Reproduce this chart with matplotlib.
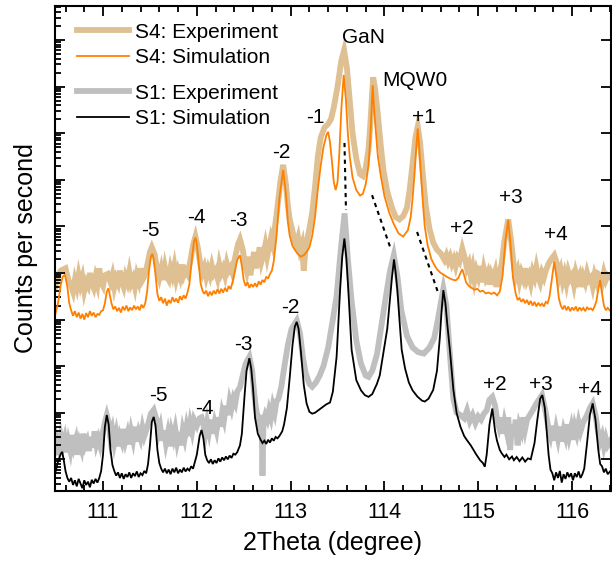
import numpy as np
import matplotlib
matplotlib.use("Agg")
from matplotlib import pyplot as plt
from matplotlib.ticker import MultipleLocator, LogLocator, NullFormatter

plt.rcParams['font.family'] = ['Liberation Sans', 'DejaVu Sans']

## DATA  (2Theta in degree, log10 of counts per second; S4 curves are offset upward)
s4_exp = [
    (110.49, 3.70), (110.52, 3.95), (110.55, 4.05), (110.60, 4.10), (110.63, 3.85), (110.66, 3.72),
    (110.68, 3.60), (110.70, 3.85), (110.72, 3.70), (110.74, 3.95), (110.76, 3.75), (110.78, 3.90),
    (110.80, 3.62), (110.82, 3.80), (110.84, 3.72), (110.86, 4.00), (110.88, 3.78), (110.90, 3.68),
    (110.92, 3.90), (110.94, 3.75), (110.96, 4.10), (110.98, 3.80), (111.00, 3.72), (111.02, 3.95),
    (111.05, 3.98), (111.08, 3.80), (111.10, 3.95), (111.12, 3.70), (111.14, 3.88), (111.16, 3.78),
    (111.18, 4.05), (111.20, 3.82), (111.22, 3.70), (111.24, 3.92), (111.26, 3.80), (111.28, 4.02),
    (111.30, 3.78), (111.32, 3.88), (111.34, 3.70), (111.36, 3.95), (111.38, 3.82), (111.40, 4.10),
    (111.42, 3.85), (111.44, 3.92), (111.47, 4.15), (111.50, 4.45), (111.52, 4.55), (111.55, 4.40),
    (111.58, 4.05), (111.60, 3.90), (111.62, 4.08), (111.64, 3.85), (111.66, 4.12), (111.68, 3.92),
    (111.70, 3.85), (111.72, 4.10), (111.74, 3.95), (111.76, 4.15), (111.78, 3.88), (111.80, 4.05),
    (111.82, 3.92), (111.84, 4.18), (111.86, 3.95), (111.88, 4.05), (111.90, 3.98), (111.93, 4.25),
    (111.96, 4.60), (111.985, 4.78), (112.01, 4.55), (112.04, 4.15), (112.06, 4.00), (112.08, 4.12),
    (112.10, 3.92), (112.12, 4.08), (112.14, 3.95), (112.16, 4.15), (112.18, 3.98), (112.20, 4.05),
    (112.22, 3.90), (112.24, 4.18), (112.26, 4.00), (112.28, 4.10), (112.30, 3.95), (112.32, 4.20),
    (112.34, 4.05), (112.36, 4.12), (112.38, 4.00), (112.41, 4.35), (112.44, 4.62), (112.46, 4.72),
    (112.49, 4.50), (112.51, 4.20), (112.53, 4.05), (112.55, 4.35), (112.57, 3.95), (112.59, 4.20),
    (112.61, 4.45), (112.63, 4.10), (112.65, 4.30), (112.67, 4.55), (112.69, 4.25), (112.71, 4.40),
    (112.73, 4.60), (112.75, 4.35), (112.77, 4.55), (112.79, 4.75), (112.81, 4.60), (112.83, 4.95),
    (112.85, 5.25), (112.87, 5.60), (112.89, 5.95), (112.92, 6.32), (112.95, 5.90), (112.97, 5.45),
    (112.99, 5.15), (113.02, 4.90), (113.04, 4.70), (113.06, 4.60), (113.08, 4.75), (113.10, 4.50),
    (113.12, 4.62), (113.14, 4.05), (113.16, 4.55), (113.18, 4.75), (113.20, 4.95), (113.23, 5.30),
    (113.26, 5.85), (113.29, 6.50), (113.32, 6.90), (113.36, 7.12), (113.40, 7.20), (113.43, 7.30),
    (113.46, 7.55), (113.50, 8.00), (113.54, 8.55), (113.57, 8.78), (113.60, 8.40), (113.63, 7.70),
    (113.66, 7.00), (113.70, 6.45), (113.74, 6.12), (113.77, 6.08), (113.80, 6.25), (113.83, 6.65),
    (113.85, 7.20), (113.87, 7.90), (113.88, 8.20), (113.90, 7.95), (113.93, 7.40), (113.96, 6.75),
    (113.99, 6.20), (114.03, 5.75), (114.08, 5.40), (114.12, 5.20), (114.16, 5.15), (114.20, 5.22),
    (114.24, 5.40), (114.27, 5.80), (114.30, 6.35), (114.33, 6.90), (114.355, 7.14), (114.38, 6.80),
    (114.41, 6.10), (114.44, 5.45), (114.48, 4.95), (114.52, 4.65), (114.56, 4.50), (114.60, 4.42),
    (114.64, 4.28), (114.66, 4.38), (114.68, 4.25), (114.70, 4.35), (114.72, 4.20), (114.74, 4.30),
    (114.76, 4.15), (114.78, 4.32), (114.80, 4.25), (114.83, 4.52), (114.86, 4.30), (114.88, 4.10),
    (114.90, 4.20), (114.92, 3.95), (114.94, 4.12), (114.96, 3.85), (114.98, 4.05), (115.00, 3.92),
    (115.02, 4.15), (115.04, 3.80), (115.06, 4.08), (115.08, 3.90), (115.10, 4.00), (115.12, 3.75),
    (115.14, 3.98), (115.16, 3.88), (115.18, 4.02), (115.20, 3.70), (115.22, 3.95), (115.25, 4.20),
    (115.28, 4.70), (115.32, 5.15), (115.35, 4.70), (115.38, 4.15), (115.40, 3.92), (115.42, 4.05),
    (115.44, 3.82), (115.46, 4.00), (115.48, 3.88), (115.50, 4.10), (115.52, 3.85), (115.54, 3.95),
    (115.56, 3.78), (115.58, 4.02), (115.60, 3.90), (115.62, 4.12), (115.64, 3.92), (115.66, 3.80),
    (115.68, 4.00), (115.70, 3.90), (115.72, 4.05), (115.75, 4.20), (115.78, 4.30), (115.81, 4.38),
    (115.84, 4.20), (115.86, 3.90), (115.88, 4.05), (115.90, 3.82), (115.92, 3.98), (115.94, 3.78),
    (115.96, 4.02), (115.98, 3.88), (116.00, 3.95), (116.02, 3.75), (116.04, 4.00), (116.06, 3.85),
    (116.08, 3.95), (116.10, 3.70), (116.12, 3.92), (116.14, 3.80), (116.16, 4.00), (116.18, 3.85),
    (116.20, 3.90), (116.22, 3.72), (116.24, 3.95), (116.26, 3.82), (116.28, 3.98), (116.30, 3.95),
    (116.32, 3.80), (116.34, 4.00), (116.36, 3.85), (116.38, 3.95), (116.41, 3.90),
]

s4_sim = [
    (110.49, 3.10), (110.52, 3.35), (110.55, 3.75), (110.57, 3.92), (110.595, 3.96), (110.62, 3.70),
    (110.64, 3.35), (110.66, 3.20), (110.68, 3.08), (110.70, 3.18), (110.72, 3.05), (110.74, 3.15),
    (110.76, 3.02), (110.78, 3.12), (110.80, 3.00), (110.82, 3.14), (110.84, 3.05), (110.86, 3.18),
    (110.88, 3.08), (110.90, 3.15), (110.92, 3.05), (110.94, 3.12), (110.96, 3.10), (110.98, 3.18),
    (111.00, 3.20), (111.02, 3.35), (111.04, 3.60), (111.057, 3.67), (111.07, 3.55), (111.09, 3.35),
    (111.11, 3.22), (111.13, 3.28), (111.15, 3.18), (111.17, 3.25), (111.19, 3.15), (111.21, 3.28),
    (111.23, 3.20), (111.25, 3.30), (111.27, 3.18), (111.29, 3.26), (111.31, 3.20), (111.33, 3.30),
    (111.35, 3.22), (111.37, 3.28), (111.39, 3.20), (111.41, 3.32), (111.43, 3.25), (111.45, 3.35),
    (111.47, 3.60), (111.49, 4.05), (111.51, 4.35), (111.526, 4.41), (111.54, 4.30), (111.56, 3.95),
    (111.58, 3.55), (111.60, 3.40), (111.62, 3.48), (111.64, 3.35), (111.66, 3.45), (111.68, 3.30),
    (111.70, 3.42), (111.72, 3.35), (111.74, 3.48), (111.76, 3.38), (111.78, 3.45), (111.80, 3.36),
    (111.82, 3.50), (111.84, 3.42), (111.86, 3.52), (111.88, 3.45), (111.90, 3.58), (111.92, 3.75),
    (111.95, 4.35), (111.97, 4.68), (111.985, 4.76), (112.00, 4.62), (112.02, 4.20), (112.04, 3.78),
    (112.06, 3.62), (112.08, 3.55), (112.10, 3.62), (112.12, 3.50), (112.14, 3.60), (112.16, 3.52),
    (112.18, 3.62), (112.20, 3.55), (112.22, 3.65), (112.24, 3.56), (112.26, 3.66), (112.28, 3.58),
    (112.30, 3.68), (112.32, 3.60), (112.34, 3.72), (112.36, 3.65), (112.38, 3.80), (112.40, 3.98),
    (112.43, 4.28), (112.46, 4.38), (112.48, 4.15), (112.50, 3.85), (112.52, 3.72), (112.54, 3.80),
    (112.56, 3.68), (112.58, 3.76), (112.60, 3.70), (112.62, 3.78), (112.64, 3.70), (112.66, 3.82),
    (112.68, 3.75), (112.70, 3.85), (112.72, 3.80), (112.74, 3.92), (112.76, 3.88), (112.78, 3.98),
    (112.80, 4.05), (112.82, 4.25), (112.85, 4.80), (112.88, 5.60), (112.92, 6.21), (112.95, 5.70),
    (112.97, 5.10), (112.99, 4.80), (113.02, 4.58), (113.05, 4.48), (113.08, 4.40), (113.11, 4.35),
    (113.14, 4.38), (113.17, 4.45), (113.20, 4.55), (113.23, 4.80), (113.26, 5.20), (113.29, 5.80),
    (113.32, 6.30), (113.35, 6.70), (113.38, 6.95), (113.40, 7.03), (113.42, 6.80), (113.44, 6.40),
    (113.46, 5.95), (113.48, 5.78), (113.50, 5.95), (113.52, 6.60), (113.54, 7.50), (113.566, 8.25),
    (113.59, 7.70), (113.61, 7.00), (113.63, 6.50), (113.66, 6.05), (113.70, 5.78), (113.74, 5.66),
    (113.77, 5.70), (113.80, 5.90), (113.83, 6.30), (113.85, 6.90), (113.86, 7.40), (113.875, 8.03),
    (113.89, 7.50), (113.91, 7.00), (113.93, 6.50), (113.96, 6.10), (114.00, 5.65), (114.05, 5.30),
    (114.10, 5.05), (114.15, 4.85), (114.20, 4.78), (114.25, 4.92), (114.28, 5.20), (114.30, 5.60),
    (114.32, 6.10), (114.34, 6.70), (114.355, 7.10), (114.37, 6.70), (114.39, 6.10), (114.41, 5.50),
    (114.43, 5.00), (114.46, 4.60), (114.50, 4.30), (114.53, 4.18), (114.56, 4.08), (114.60, 4.00),
    (114.64, 3.95), (114.68, 3.90), (114.72, 3.86), (114.76, 3.84), (114.79, 3.90), (114.81, 4.00),
    (114.83, 4.08), (114.85, 3.95), (114.87, 3.80), (114.90, 3.72), (114.93, 3.68), (114.96, 3.64),
    (114.99, 3.66), (115.02, 3.60), (115.05, 3.62), (115.08, 3.56), (115.11, 3.58), (115.14, 3.55),
    (115.17, 3.58), (115.20, 3.52), (115.23, 3.60), (115.26, 3.95), (115.29, 4.70), (115.32, 5.14),
    (115.345, 4.60), (115.37, 3.90), (115.40, 3.55), (115.42, 3.42), (115.44, 3.46), (115.46, 3.38),
    (115.48, 3.44), (115.50, 3.35), (115.52, 3.42), (115.54, 3.32), (115.56, 3.40), (115.58, 3.30),
    (115.60, 3.38), (115.62, 3.28), (115.64, 3.36), (115.66, 3.30), (115.68, 3.34), (115.70, 3.28),
    (115.72, 3.38), (115.74, 3.35), (115.76, 3.50), (115.78, 3.80), (115.81, 4.24), (115.835, 3.90),
    (115.86, 3.45), (115.88, 3.30), (115.90, 3.22), (115.92, 3.30), (115.94, 3.20), (115.96, 3.28),
    (115.98, 3.18), (116.00, 3.26), (116.02, 3.20), (116.04, 3.28), (116.06, 3.18), (116.08, 3.26),
    (116.10, 3.20), (116.12, 3.25), (116.14, 3.18), (116.16, 3.26), (116.18, 3.22), (116.20, 3.24),
    (116.22, 3.20), (116.24, 3.28), (116.26, 3.40), (116.28, 3.65), (116.30, 3.85), (116.32, 3.55),
    (116.34, 3.30), (116.36, 3.20), (116.38, 3.25), (116.41, 3.18),
]

s1_exp = [
    (110.49, 0.15), (110.51, 0.40), (110.53, 0.25), (110.55, 0.50), (110.57, 0.30), (110.59, 0.45),
    (110.61, 0.15), (110.63, 0.38), (110.65, 0.20), (110.67, 0.52), (110.69, 0.28), (110.71, 0.42),
    (110.73, 0.10), (110.75, 0.35), (110.77, 0.22), (110.79, 0.55), (110.81, 0.30), (110.83, 0.40),
    (110.85, 0.18), (110.87, 0.48), (110.89, 0.25), (110.91, 0.60), (110.93, 0.32), (110.95, 0.45),
    (110.97, 0.30), (110.99, 0.50), (111.02, 0.80), (111.04, 0.95), (111.06, 0.80), (111.08, 0.45),
    (111.10, 0.62), (111.12, 0.35), (111.14, 0.55), (111.16, 0.28), (111.18, 0.50), (111.20, 0.38),
    (111.22, 0.65), (111.24, 0.40), (111.26, 0.55), (111.28, 0.32), (111.30, 0.60), (111.32, 0.42),
    (111.34, 0.70), (111.36, 0.38), (111.38, 0.58), (111.40, 0.45), (111.42, 0.68), (111.44, 0.50),
    (111.46, 0.62), (111.48, 0.75), (111.51, 0.98), (111.54, 1.06), (111.57, 0.85), (111.59, 0.55),
    (111.61, 0.70), (111.63, 0.40), (111.65, 0.62), (111.67, 0.35), (111.69, 0.55), (111.71, 0.28),
    (111.73, 0.60), (111.75, 0.45), (111.77, 0.65), (111.79, 0.38), (111.81, 0.58), (111.83, 0.30),
    (111.85, 0.62), (111.87, 0.45), (111.89, 0.70), (111.91, 0.50), (111.93, 0.78), (111.95, 0.60),
    (111.97, 0.85), (112.00, 0.72), (112.03, 0.88), (112.05, 0.90), (112.07, 0.75), (112.09, 0.55),
    (112.11, 0.80), (112.13, 0.60), (112.15, 0.85), (112.17, 0.55), (112.19, 0.78), (112.21, 0.62),
    (112.23, 0.90), (112.25, 0.70), (112.27, 1.00), (112.29, 0.85), (112.31, 1.15), (112.33, 0.95),
    (112.35, 1.25), (112.37, 1.10), (112.39, 1.30), (112.41, 1.20), (112.43, 1.45), (112.46, 1.55),
    (112.49, 1.80), (112.52, 2.05), (112.56, 2.20), (112.59, 1.90), (112.61, 1.45), (112.63, 1.10),
    (112.65, 0.90), (112.67, 0.75), (112.69, 0.95), (112.70, -0.35), (112.71, 0.80), (112.73, 0.95),
    (112.75, 0.85), (112.77, 1.05), (112.79, 0.90), (112.81, 1.15), (112.83, 1.00), (112.85, 1.25),
    (112.87, 1.30), (112.90, 1.55), (112.93, 1.95), (112.97, 2.45), (113.01, 2.80), (113.065, 2.98),
    (113.10, 2.70), (113.13, 2.20), (113.16, 1.85), (113.20, 1.62), (113.23, 1.56), (113.27, 1.65),
    (113.31, 1.80), (113.35, 2.00), (113.40, 2.40), (113.45, 3.00), (113.49, 3.50), (113.53, 4.40),
    (113.575, 5.28), (113.61, 4.30), (113.65, 3.40), (113.70, 2.55), (113.75, 2.05), (113.80, 1.80),
    (113.83, 1.77), (113.87, 1.90), (113.92, 2.25), (113.97, 2.90), (114.02, 3.55), (114.06, 4.05),
    (114.10, 4.38), (114.14, 3.90), (114.18, 3.20), (114.24, 2.65), (114.30, 2.40), (114.36, 2.30),
    (114.42, 2.27), (114.48, 2.40), (114.53, 2.60), (114.57, 3.00), (114.60, 3.35), (114.628, 3.66),
    (114.66, 3.30), (114.70, 2.20), (114.735, 1.30), (114.77, 1.00), (114.81, 0.95), (114.85, 0.88),
    (114.88, 1.05), (114.91, 0.82), (114.94, 0.95), (114.97, 0.78), (115.00, 0.92), (115.03, 0.85),
    (115.06, 0.98), (115.09, 1.05), (115.12, 1.28), (115.15, 1.34), (115.18, 1.15), (115.20, 0.85),
    (115.22, 0.70), (115.24, 0.90), (115.26, 0.55), (115.28, 0.80), (115.30, 0.62), (115.32, 0.90),
    (115.34, 0.20), (115.36, 0.75), (115.38, 0.55), (115.40, 0.85), (115.42, 0.30), (115.44, 0.72),
    (115.46, 0.60), (115.48, 0.90), (115.50, 0.65), (115.52, 0.85), (115.55, 0.95), (115.58, 1.05),
    (115.62, 1.20), (115.68, 1.38), (115.72, 1.00), (115.75, 0.65), (115.77, 0.50), (115.79, 0.72),
    (115.81, 0.40), (115.83, 0.65), (115.85, 0.45), (115.87, 0.70), (115.89, 0.38), (115.91, 0.62),
    (115.93, 0.48), (115.95, 0.75), (115.97, 0.50), (115.99, 0.68), (116.01, 0.42), (116.03, 0.70),
    (116.05, 0.55), (116.07, 0.78), (116.09, 0.60), (116.12, 0.80), (116.16, 0.95), (116.19, 1.10),
    (116.22, 1.20), (116.25, 0.95), (116.28, 0.55), (116.30, 0.38), (116.32, 0.50), (116.34, 0.28),
    (116.36, 0.45), (116.38, 0.30), (116.41, 0.40),
]

s1_sim = [
    (110.49, -0.30), (110.52, -0.05), (110.55, 0.12), (110.565, 0.16), (110.58, 0.00), (110.60, -0.25),
    (110.62, -0.40), (110.64, -0.48), (110.66, -0.40), (110.68, -0.55), (110.70, -0.45), (110.72, -0.58),
    (110.74, -0.42), (110.76, -0.52), (110.78, -0.62), (110.80, -0.45), (110.82, -0.55), (110.84, -0.48),
    (110.86, -0.60), (110.88, -0.44), (110.90, -0.52), (110.92, -0.42), (110.94, -0.50), (110.96, -0.40),
    (110.98, -0.25), (111.00, 0.10), (111.02, 0.70), (111.04, 0.95), (111.06, 0.75), (111.08, 0.20),
    (111.10, -0.12), (111.12, -0.25), (111.14, -0.35), (111.16, -0.28), (111.18, -0.40), (111.20, -0.30),
    (111.22, -0.42), (111.24, -0.32), (111.26, -0.38), (111.28, -0.28), (111.30, -0.40), (111.32, -0.30),
    (111.34, -0.36), (111.36, -0.26), (111.38, -0.38), (111.40, -0.30), (111.42, -0.34), (111.44, -0.25),
    (111.46, -0.30), (111.48, -0.10), (111.50, 0.30), (111.52, 0.80), (111.54, 0.91), (111.56, 0.72),
    (111.58, 0.20), (111.60, -0.08), (111.62, -0.20), (111.64, -0.28), (111.66, -0.20), (111.68, -0.30),
    (111.70, -0.22), (111.72, -0.32), (111.74, -0.20), (111.76, -0.28), (111.78, -0.18), (111.80, -0.30),
    (111.82, -0.22), (111.84, -0.28), (111.86, -0.18), (111.88, -0.26), (111.90, -0.20), (111.92, -0.24),
    (111.94, -0.15), (111.96, -0.20), (111.98, -0.05), (112.00, 0.10), (112.03, 0.50), (112.05, 0.63),
    (112.07, 0.45), (112.09, 0.10), (112.11, -0.02), (112.13, -0.08), (112.15, 0.00), (112.17, -0.10),
    (112.19, -0.02), (112.21, -0.08), (112.23, 0.02), (112.25, -0.05), (112.27, 0.04), (112.29, -0.02),
    (112.31, 0.06), (112.33, 0.00), (112.35, 0.08), (112.37, 0.03), (112.39, 0.12), (112.41, 0.10),
    (112.43, 0.15), (112.46, 0.30), (112.48, 0.55), (112.51, 1.40), (112.53, 1.90), (112.56, 2.17),
    (112.58, 1.95), (112.60, 1.50), (112.62, 0.90), (112.65, 0.55), (112.68, 0.42), (112.70, 0.35),
    (112.72, 0.40), (112.74, 0.33), (112.76, 0.42), (112.78, 0.36), (112.80, 0.45), (112.82, 0.40),
    (112.84, 0.48), (112.86, 0.45), (112.88, 0.50), (112.91, 0.60), (112.93, 0.75), (112.96, 1.10),
    (112.99, 1.75), (113.02, 2.45), (113.045, 2.85), (113.065, 2.95), (113.085, 2.80), (113.11, 2.30),
    (113.14, 1.60), (113.17, 1.20), (113.20, 1.02), (113.23, 0.98), (113.26, 1.00), (113.30, 1.06),
    (113.34, 1.12), (113.38, 1.18), (113.42, 1.22), (113.45, 1.45), (113.49, 2.20), (113.527, 3.63),
    (113.55, 4.35), (113.573, 4.74), (113.595, 4.30), (113.615, 3.63), (113.65, 2.35), (113.70, 1.70),
    (113.75, 1.48), (113.79, 1.38), (113.83, 1.34), (113.87, 1.40), (113.92, 1.62), (113.95, 1.80),
    (113.99, 2.30), (114.03, 2.80), (114.06, 3.45), (114.08, 3.90), (114.102, 4.29), (114.12, 4.00),
    (114.138, 3.63), (114.16, 3.00), (114.184, 2.35), (114.22, 1.95), (114.26, 1.65), (114.30, 1.48),
    (114.35, 1.35), (114.40, 1.26), (114.43, 1.24), (114.47, 1.30), (114.52, 1.49), (114.56, 1.90),
    (114.59, 2.60), (114.61, 3.20), (114.628, 3.63), (114.65, 3.35), (114.67, 2.90), (114.70, 2.30),
    (114.735, 1.49), (114.77, 0.99), (114.81, 0.70), (114.85, 0.50), (114.88, 0.41), (114.92, 0.30),
    (114.95, 0.20), (114.98, 0.10), (115.02, -0.02), (115.05, -0.08), (115.07, -0.16), (115.09, 0.10),
    (115.12, 0.75), (115.15, 1.09), (115.18, 0.60), (115.20, 0.40), (115.23, 0.20), (115.25, 0.13),
    (115.28, 0.05), (115.30, 0.10), (115.33, 0.00), (115.36, 0.06), (115.38, -0.02), (115.41, 0.05),
    (115.44, -0.04), (115.47, 0.04), (115.50, -0.05), (115.53, 0.02), (115.56, 0.00), (115.60, 0.35),
    (115.63, 0.85), (115.66, 1.30), (115.683, 1.38), (115.71, 1.10), (115.73, 0.60), (115.75, 0.10),
    (115.77, -0.22), (115.79, -0.30), (115.81, -0.45), (115.83, -0.28), (115.85, -0.40), (115.87, -0.25),
    (115.89, -0.50), (115.91, -0.32), (115.93, -0.42), (115.95, -0.28), (115.97, -0.38), (115.99, -0.30),
    (116.01, -0.45), (116.03, -0.30), (116.05, -0.38), (116.07, -0.26), (116.09, -0.40), (116.11, -0.32),
    (116.13, -0.20), (116.16, 0.35), (116.19, 0.95), (116.22, 1.20), (116.25, 0.85), (116.28, 0.20),
    (116.30, -0.10), (116.32, -0.15), (116.34, -0.28), (116.36, -0.20), (116.38, -0.32), (116.41, -0.25),
]

# dashed guides from the S4 peaks to the S1 peaks
guides = [
    [(113.574, 6.79), (113.59, 5.35)],
    [(113.868, 5.67), (114.06, 4.56)],
    [(114.348, 4.88), (114.57, 3.59)],
]

# satellite labels: (text, 2Theta, log10 cps)
s4_labels = [("GaN", 113.78, 9.06), ("MQW0", 114.32, 8.14), ("-1", 113.26, 7.33), ("+1", 114.42, 7.33),
             ("-2", 112.90, 6.59), ("-3", 112.44, 5.13), ("-4", 111.99, 5.18), ("-5", 111.51, 4.92),
             ("+2", 114.82, 4.96), ("+3", 115.35, 5.61), ("+4", 115.83, 4.82)]
s1_labels = [("-5", 111.59, 1.38), ("-4", 112.08, 1.10), ("-3", 112.50, 2.46), ("-2", 113.00, 3.25),
             ("+2", 115.18, 1.60), ("+3", 115.67, 1.60), ("+4", 116.19, 1.49)]

c_s4exp = '#DEC092'
c_s4sim = '#FF8000'
c_s1exp = '#BFBFBF'
c_s1sim = 'black'

fig = plt.figure(figsize=(6.12, 5.63), dpi=100)
ax = fig.add_axes([55/612, 1-491/563, 555.5/612, 485/563])

def draw(series, color, lw, zorder):
    x, lg = np.array(series).T
    return ax.plot(x, 10**lg, color=color, lw=lw, zorder=zorder, solid_joinstyle='miter')[0]

h1 = draw(s4_exp, c_s4exp, 4.2, 1)
h3 = draw(s1_exp, c_s1exp, 4.2, 1)
h2 = draw(s4_sim, c_s4sim, 1.3, 2)
h4 = draw(s1_sim, c_s1sim, 1.3, 2)

for g in guides:
    gx, glg = np.array(g).T
    ax.plot(gx, 10**glg, color='black', lw=1.5, ls=(0, (2, 2)), zorder=3)

for txt, x, lg in s4_labels + s1_labels:
    ax.text(x, 10**lg, txt, fontsize=15, ha='center', va='center')

ax.set_yscale('log')
ax.set_xlim(110.488, 116.41)
ax.set_ylim(10**-0.68, 10**9.73)

ax.xaxis.set_major_locator(MultipleLocator(1))
ax.xaxis.set_minor_locator(MultipleLocator(0.2))
ax.yaxis.set_major_locator(LogLocator(base=10, numticks=20))
ax.yaxis.set_minor_locator(LogLocator(base=10, subs=np.arange(2, 10), numticks=20))
ax.yaxis.set_major_formatter(NullFormatter())
ax.yaxis.set_minor_formatter(NullFormatter())

ax.tick_params(axis='both', which='both', direction='in', top=True, right=True, width=1.3)
ax.tick_params(axis='both', which='major', length=7)
ax.tick_params(axis='both', which='minor', length=4)
ax.tick_params(axis='y', which='minor', right=False)
ax.tick_params(axis='x', labelsize=15.5, pad=8)
for sp in ax.spines.values():
    sp.set_linewidth(1.5)

ax.set_xlabel('2Theta (degree)', fontsize=18, labelpad=6)
ax.set_ylabel('Counts per second', fontsize=18, labelpad=9)

leg1 = ax.legend([h1, h2], ['S4: Experiment', 'S4: Simulation'], loc='center left',
                 bbox_to_anchor=(0.04, 0.92), frameon=False, fontsize=15, borderpad=0,
                 borderaxespad=0, handlelength=2.5, handletextpad=0.25, labelspacing=0.3)
ax.add_artist(leg1)
ax.legend([h3, h4], ['S1: Experiment', 'S1: Simulation'], loc='center left',
          bbox_to_anchor=(0.04, 0.794), frameon=False, fontsize=15, borderpad=0,
          borderaxespad=0, handlelength=2.5, handletextpad=0.25, labelspacing=0.3)

plt.savefig('out.png', dpi=100)
